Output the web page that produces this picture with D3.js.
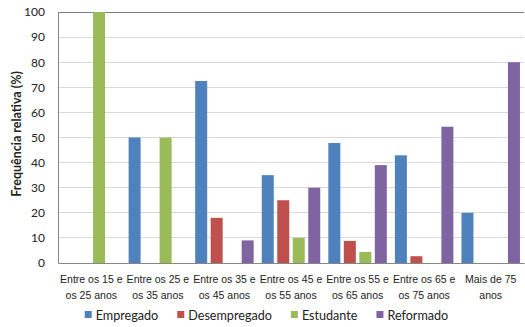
<!DOCTYPE html>
<html><head><meta charset="utf-8">
<script src="https://cdn.jsdelivr.net/npm/d3@7"></script>
<style>body{margin:0;background:#fff}svg{display:block;font-family:Lato,"Open Sans",sans-serif}</style>
</head><body><svg id="c" width="525" height="327"></svg>
<script>
const categories = [["Entre os 15 e","os 25 anos"],["Entre os 25 e","os 35 anos"],["Entre os 35 e","os 45 anos"],["Entre os 45 e","os 55 anos"],["Entre os 55 e","os 65 anos"],["Entre os 65 e","os 75 anos"],["Mais de 75","anos"]];
const seriesNames = ["Empregado","Desempregado","Estudante","Reformado"];
const empregado    = [0, 50, 72.5, 35, 47.8, 42.9, 20];
const desempregado = [0, 0, 18, 25, 8.8, 2.7, 0];
const estudante    = [100, 50, 0, 10, 4.4, 0, 0];
const reformado    = [0, 0, 9, 30, 39, 54.3, 80];
const yTicks = [0,10,20,30,40,50,60,70,80,90,100];
const colors = ["#4f81bd","#c0504d","#9bbb59","#8064a2"];
const values = [empregado, desempregado, estudante, reformado];

const svg = d3.select("#c");
const m = {l:58, r:524, t:12, b:263};
const y = d3.scaleLinear().domain([0,100]).range([m.b, m.t]);
const x0 = d3.scaleBand().domain(d3.range(categories.length)).range([m.l, m.r]).padding(0);
const inner = 62, off = (x0.bandwidth()-inner)/2;
const x1 = d3.scaleBand().domain(d3.range(4)).range([off, off+inner]).paddingInner(0.226).paddingOuter(0.113);

svg.append("g").selectAll("line").data(yTicks.slice(1,-1)).join("line")
  .attr("x1", m.l).attr("x2", m.r).attr("y1", d=>y(d)).attr("y2", d=>y(d))
  .attr("stroke","#d9d9d9").attr("stroke-width",1).attr("shape-rendering","crispEdges");
svg.append("line").attr("x1",m.l).attr("x2",m.r).attr("y1",y(100)).attr("y2",y(100))
  .attr("stroke","#7f7f7f").attr("shape-rendering","crispEdges");

const g = svg.append("g");
categories.forEach((c,i)=>{
  values.forEach((s,j)=>{
    if(s[i]>0) g.append("rect").attr("x", x0(i)+x1(j)).attr("width", x1.bandwidth())
      .attr("y", y(s[i])).attr("height", y(0)-y(s[i])).attr("fill", colors[j]);
  });
});

const ya = svg.append("g").attr("transform",`translate(${m.l},0)`)
  .call(d3.axisLeft(y).tickValues(yTicks).tickSize(0).tickPadding(13));
ya.select(".domain").attr("stroke","#868686");
ya.selectAll("text").attr("font-size","12px").attr("fill","#222").attr("font-family","Lato");
const xa = svg.append("g").attr("transform",`translate(0,${m.b})`)
  .call(d3.axisBottom(x0).tickSize(0).tickFormat(""));
xa.select(".domain").attr("stroke","#868686");
xa.selectAll(".tick").each(function(d){
  const t = d3.select(this).append("text").attr("fill","#222").attr("font-size","10.5px").attr("text-anchor","middle");
  categories[d].forEach((line,k)=>t.append("tspan").attr("x",0).attr("y", 20+k*15.5).text(line));
});

svg.append("text").attr("transform","translate(21,134) rotate(-90)").attr("text-anchor","middle")
  .attr("font-weight","bold").attr("font-size","12.5px").attr("fill","#222").text("Frequência relativa (%)");

const lg = svg.append("g");
let cx = 0;
seriesNames.forEach((n,j)=>{
  const it = lg.append("g").attr("transform",`translate(${cx},0)`);
  it.append("rect").attr("x",0).attr("y",-4).attr("width",7).attr("height",7).attr("fill",colors[j]);
  const t = it.append("text").attr("x",11).attr("y",4.5).attr("font-size","12.6px").attr("fill","#222").text(n);
  cx += 11 + t.node().getComputedTextLength() + 19;
});
const total = cx - 19;
lg.attr("transform",`translate(${266.5 - total/2},315)`);
</script></body></html>
